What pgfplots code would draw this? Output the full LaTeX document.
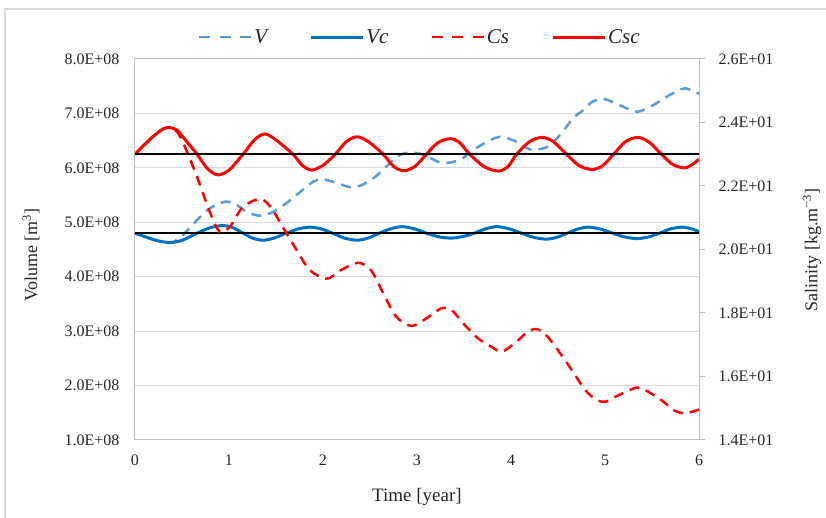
\documentclass[border=0pt]{standalone}
\usepackage{fontspec}
\setmainfont{Liberation Serif}
\usepackage{pgfplots}
\pgfplotsset{compat=1.18}
\definecolor{vlight}{HTML}{5B9BD5}
\definecolor{vdark}{HTML}{0070C0}
\definecolor{gridc}{HTML}{D9D9D9}
\definecolor{axc}{HTML}{BFBFBF}
\definecolor{txt}{HTML}{262626}
\pgfplotsset{
  common/.style={
    at={(0,0)}, anchor=south west,
    scale only axis, width=564pt, height=381pt,
    xmin=0, xmax=6,
    scaled ticks=false,
    tick label style={font=\fontsize{16}{19}\selectfont, text=txt},
    legend image code/.code={\draw[#1] (0pt,0pt) -- (52pt,0pt);},
  },
}
\begin{document}
\begin{tikzpicture}
\begin{axis}[common,
  name=ax,
  ymin=1e8, ymax=8e8,
  axis line style={axc, line width=1pt},
  xtick={0,1,2,3,4,5,6}, xticklabels={0,1,2,3,4,5,6},
  ytick={1e8,2e8,3e8,4e8,5e8,6e8,7e8,8e8},
  yticklabels={1.0E+08,2.0E+08,3.0E+08,4.0E+08,5.0E+08,6.0E+08,7.0E+08,8.0E+08},
  major tick length=0pt,
  ymajorgrids, grid style={gridc, line width=1pt},
  xticklabel style={yshift=-11pt},
  yticklabel style={xshift=-12pt},
  xlabel={Time [year]},
  ylabel={Volume [m\textsuperscript{3}]},
  every axis x label/.style={at={(axis description cs:0.5,-0.1496)}, anchor=center,
    font=\fontsize{19}{22}\selectfont, text=txt},
  every axis y label/.style={at={(axis description cs:-0.1844,0.4856)}, anchor=center, rotate=90,
    font=\fontsize{18}{21}\selectfont, text=txt},
]
\addplot[vlight, line width=2.5pt, dash pattern=on 10pt off 7pt, smooth, tension=0.5] coordinates {
(0.00,4.80e8) (0.10,4.74e8) (0.20,4.68e8) (0.30,4.64e8) (0.40,4.63e8) (0.53,4.80e8)
(0.66,5.04e8) (0.80,5.26e8) (0.96,5.38e8) (1.08,5.32e8) (1.19,5.19e8) (1.33,5.12e8)
(1.47,5.19e8) (1.61,5.35e8) (1.76,5.56e8) (1.90,5.75e8) (2.00,5.79e8) (2.15,5.72e8)
(2.30,5.64e8) (2.42,5.69e8) (2.56,5.84e8) (2.69,6.05e8) (2.82,6.24e8) (2.96,6.28e8)
(3.10,6.22e8) (3.24,6.10e8) (3.36,6.10e8) (3.48,6.17e8) (3.60,6.33e8) (3.78,6.51e8)
(3.90,6.57e8) (4.06,6.48e8) (4.20,6.34e8) (4.38,6.38e8) (4.52,6.60e8) (4.66,6.91e8)
(4.77,7.06e8) (4.87,7.22e8) (5.00,7.26e8) (5.16,7.15e8) (5.34,7.03e8) (5.51,7.15e8)
(5.69,7.34e8) (5.85,7.46e8) (6.00,7.36e8)
};
\addplot[vdark, line width=3pt, smooth, tension=0.5] coordinates {
(0.00,4.80e8) (0.10,4.74e8) (0.20,4.68e8) (0.30,4.64e8) (0.40,4.63e8) (0.52,4.68e8)
(0.66,4.80e8) (0.80,4.90e8) (0.93,4.94e8) (1.03,4.91e8) (1.15,4.80e8) (1.25,4.71e8)
(1.36,4.67e8) (1.48,4.71e8) (1.61,4.80e8) (1.74,4.88e8) (1.86,4.91e8) (1.98,4.88e8)
(2.10,4.80e8) (2.23,4.71e8) (2.36,4.67e8) (2.48,4.71e8) (2.60,4.80e8) (2.72,4.88e8)
(2.84,4.92e8) (2.97,4.88e8) (3.10,4.80e8) (3.24,4.73e8) (3.37,4.71e8) (3.49,4.74e8)
(3.61,4.80e8) (3.73,4.88e8) (3.85,4.92e8) (3.98,4.88e8) (4.11,4.80e8) (4.25,4.72e8)
(4.38,4.69e8) (4.48,4.72e8) (4.60,4.80e8) (4.70,4.87e8) (4.81,4.91e8) (4.94,4.88e8)
(5.08,4.80e8) (5.21,4.73e8) (5.34,4.70e8) (5.46,4.73e8) (5.58,4.80e8) (5.70,4.88e8)
(5.82,4.91e8) (5.92,4.88e8) (6.00,4.83e8)
};
\addplot[black, line width=1.6pt] coordinates {(0,4.8e8) (6,4.8e8)};
\end{axis}
\begin{axis}[common,
  ymin=14, ymax=26,
  axis x line=none, axis y line*=right,
  axis line style={axc, line width=1pt},
  ytick={14,16,18,20,22,24,26},
  yticklabels={1.4E+01,1.6E+01,1.8E+01,2.0E+01,2.2E+01,2.4E+01,2.6E+01},
  ytick style={axc, line width=1pt},
  major tick length=6pt, tick align=outside,
  yticklabel style={xshift=10pt},
  ylabel={Salinity [kg.m\textsuperscript{−3}]},
  every axis y label/.style={at={(axis description cs:1.2004,0.4987)}, anchor=center, rotate=90,
    font=\fontsize{18}{21}\selectfont, text=txt},
  legend columns=4,
  legend style={draw=none, fill=none, at={(axis description cs:0.505,1.0577)}, anchor=center,
    font=\itshape\fontsize{21}{24}\selectfont, text=txt,
    /tikz/every even column/.append style={column sep=40pt}},
]
\addlegendimage{vlight, line width=2.5pt, dash pattern=on 11pt off 9.5pt}
\addlegendentry{V}
\addlegendimage{vdark, line width=3pt}
\addlegendentry{Vc}
\addlegendimage{red, line width=2.5pt, dash pattern=on 11pt off 9.5pt}
\addlegendentry{Cs}
\addlegendimage{red, line width=3pt}
\addlegendentry{Csc}
\addplot[red, line width=2.5pt, dash pattern=on 10pt off 7pt, smooth, tension=0.5, forget plot] coordinates {
(0.00,23.00) (0.10,23.30) (0.20,23.58) (0.30,23.80) (0.37,23.84) (0.45,23.70)
(0.53,23.24) (0.66,22.29) (0.80,21.15) (0.90,20.56) (1.01,20.72) (1.15,21.35)
(1.33,21.59) (1.44,21.35) (1.57,20.72) (1.72,19.98) (1.86,19.35) (2.04,19.08)
(2.19,19.35) (2.37,19.58) (2.51,19.35) (2.66,18.51) (2.78,17.88) (2.94,17.59)
(3.10,17.83) (3.26,18.15) (3.37,18.09) (3.49,17.68) (3.65,17.20) (3.79,16.94)
(3.90,16.78) (4.04,17.05) (4.18,17.41) (4.28,17.49) (4.39,17.25) (4.55,16.62)
(4.67,16.10) (4.79,15.57) (4.91,15.26) (5.01,15.21) (5.15,15.42) (5.34,15.65)
(5.46,15.52) (5.62,15.21) (5.73,14.94) (5.85,14.84) (6.00,14.96)
};
\addplot[red, line width=3pt, smooth, tension=0.5, forget plot] coordinates {
(0.00,23.00) (0.10,23.30) (0.20,23.58) (0.30,23.80) (0.37,23.84) (0.45,23.75)
(0.55,23.40) (0.66,23.00) (0.77,22.55) (0.88,22.35) (1.00,22.50) (1.15,23.00)
(1.27,23.45) (1.38,23.64) (1.50,23.45) (1.68,23.00) (1.78,22.65) (1.88,22.50)
(2.00,22.65) (2.13,23.00) (2.25,23.40) (2.36,23.55) (2.48,23.40) (2.64,23.00)
(2.75,22.62) (2.86,22.48) (2.98,22.62) (3.10,23.00) (3.22,23.36) (3.35,23.49)
(3.45,23.38) (3.56,23.00) (3.72,22.60) (3.87,22.47) (3.97,22.62) (4.06,23.00)
(4.20,23.40) (4.33,23.53) (4.45,23.40) (4.59,23.00) (4.73,22.63) (4.87,22.52)
(4.98,22.65) (5.09,23.00) (5.22,23.40) (5.35,23.53) (5.47,23.38) (5.60,23.00)
(5.72,22.68) (5.85,22.57) (5.95,22.72) (6.00,22.85)
};
\addplot[black, line width=1.6pt, forget plot] coordinates {(0,23) (6,23)};
\end{axis}
\draw[gridc, line width=1.5pt] (-130pt,-80pt) -- (-130pt,431pt) -- (700pt,431pt);
\pgfresetboundingbox
\path[use as bounding box] (-135pt,-78pt) rectangle ++(826pt,518pt);
\end{tikzpicture}
\end{document}
